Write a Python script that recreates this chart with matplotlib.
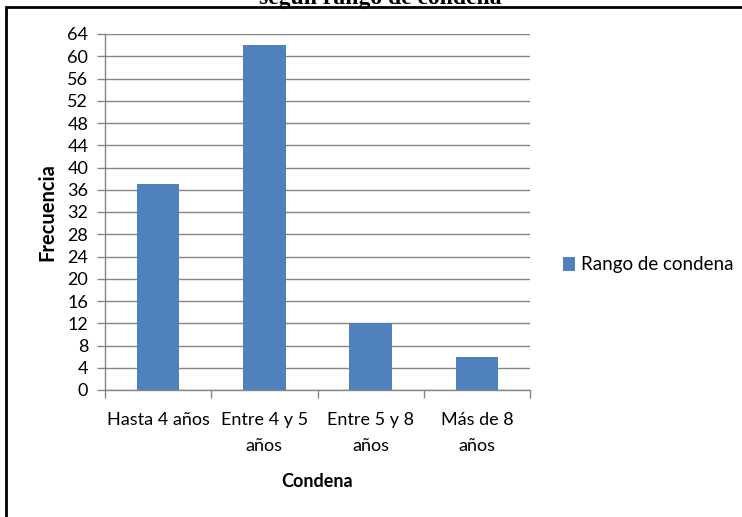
import matplotlib
matplotlib.use("Agg")
import matplotlib.pyplot as plt
from matplotlib.patches import Rectangle
import numpy as np

# datos
categorias = ["Hasta 4 años", "Entre 4 y 5\naños", "Entre 5 y 8\naños", "Más de 8\naños"]
frecuencias = [37, 62, 12, 6]
serie = "Rango de condena"

plt.rcParams["font.family"] = ["Lato", "DejaVu Sans"]
gris = "#868686"
azul = "#4F81BD"

W, H = 742, 517
fig = plt.figure(figsize=(W / 100, H / 100), dpi=100)
ax = fig.add_axes([105 / W, 1 - 390 / H, (530 - 105) / W, (390 - 34) / H])

x = np.arange(len(categorias))
ax.bar(x, frecuencias, width=0.4, color=azul, label=serie, zorder=3)

ax.set_xlim(-0.5, len(categorias) - 0.5)
ax.set_ylim(0, 64)
ax.set_yticks(np.arange(0, 65, 4))
ax.yaxis.grid(True, color=gris, linewidth=1)
ax.set_axisbelow(True)

ax.set_xticks(x)
ax.set_xticklabels(categorias, fontsize=13, linespacing=1.75)
ax.set_xticks(np.arange(-0.5, len(categorias)), minor=True)
ax.tick_params(axis="x", which="major", length=0, pad=16)
ax.tick_params(axis="x", which="minor", length=6, color=gris, width=1)
ax.tick_params(axis="y", length=6, color=gris, width=1, labelsize=13, pad=6)

for s in ["top", "right"]:
    ax.spines[s].set_visible(False)
for s in ["left", "bottom"]:
    ax.spines[s].set_color(gris)
    ax.spines[s].set_linewidth(1)

ax.set_ylabel("Frecuencia", fontsize=14.5, fontweight="bold", labelpad=7)
ax.set_xlabel("Condena", fontsize=13, fontweight="bold", labelpad=14)

ax.legend(loc="center left", bbox_to_anchor=(1.078, 0.5 - (265 - 212) / 356),
          frameon=False, fontsize=13.5, handlelength=0.65, handleheight=0.75,
          handletextpad=0.3, borderaxespad=0, borderpad=0)

# marco y titulo cortado
fig.patches.append(Rectangle((6 / W, -0.1), 1.2, 1.1 - 7 / H, transform=fig.transFigure,
                             fill=False, edgecolor="black", linewidth=2))
fig.text(380 / W, 1 - 4 / H, "según rango de condena", ha="center", va="baseline",
         fontsize=17, fontweight="bold", family="Liberation Serif")

fig.savefig("out.png", dpi=100)
